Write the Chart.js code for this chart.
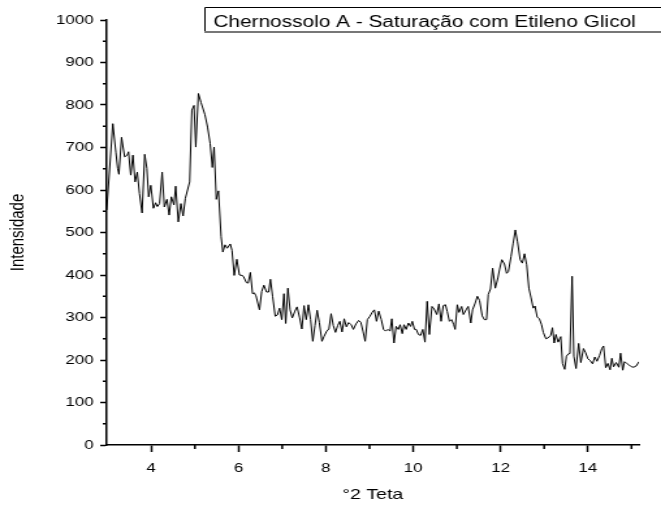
<!DOCTYPE html>
<html>
<head>
<meta charset="utf-8">
<script src="https://cdn.jsdelivr.net/npm/chart.js@4.4.1/dist/chart.umd.min.js"></script>
<style>
  body { margin: 0; background: #fff; }
  #wrap { width: 661px; height: 508px; overflow: hidden; }
  /* the original figure is horizontally stretched, so draw square and stretch it */
  #chart { transform: scaleX(1.3012); transform-origin: 0 0; }
</style>
</head>
<body>
<div id="wrap"><canvas id="chart" width="508" height="508"></canvas></div>
<script>
const theta = [
  2.98, 3.12, 3.19, 3.23, 3.26, 3.32, 3.39, 3.45, 3.48, 3.53, 3.58, 3.63, 3.68, 3.73, 3.79, 3.85, 3.90, 3.94,
  3.99, 4.05, 4.10, 4.14, 4.19, 4.25, 4.30, 4.36, 4.41, 4.46, 4.52, 4.56, 4.62, 4.68, 4.73, 4.78, 4.88, 4.93, 4.98,
  5.02, 5.08, 5.14, 5.23, 5.29, 5.35, 5.40, 5.44, 5.49, 5.54, 5.60, 5.64, 5.69, 5.74, 5.81, 5.85, 5.90, 5.96, 6.02,
  6.08, 6.11, 6.18, 6.22, 6.27, 6.32, 6.36, 6.40, 6.48, 6.53, 6.58, 6.64, 6.69, 6.73, 6.78, 6.84, 6.89, 6.94, 6.99,
  7.04, 7.08, 7.13, 7.18, 7.23, 7.29, 7.34, 7.40, 7.45, 7.50, 7.55, 7.60, 7.65, 7.70, 7.75, 7.80, 7.85, 7.91, 7.96, 8.02,
  8.07, 8.12, 8.17, 8.22, 8.27, 8.32, 8.37, 8.42, 8.47, 8.52, 8.58, 8.63, 8.69, 8.75, 8.80, 8.85, 8.90, 8.95, 9.01, 9.06,
  9.11, 9.16, 9.21, 9.27, 9.32, 9.37, 9.42, 9.47, 9.51, 9.56, 9.61, 9.66, 9.70, 9.75, 9.79, 9.84, 9.89, 9.94, 9.98, 10.03, 10.07,
  10.12, 10.17, 10.22, 10.27, 10.32, 10.37, 10.43, 10.48, 10.54, 10.59, 10.64, 10.69, 10.74, 10.78, 10.83, 10.88, 10.93, 10.96, 11.01, 11.05,
  11.11, 11.15, 11.21, 11.26, 11.32, 11.36, 11.42, 11.47, 11.52, 11.58, 11.63, 11.68, 11.72, 11.77, 11.82, 11.88, 11.94, 11.98, 12.03, 12.09,
  12.14, 12.18, 12.24, 12.29, 12.34, 12.39, 12.45, 12.50, 12.55, 12.60, 12.65, 12.70, 12.75, 12.79, 12.84, 12.89, 12.94, 12.98, 13.04, 13.09,
  13.15, 13.19, 13.23, 13.27, 13.32, 13.38, 13.42, 13.47, 13.51, 13.56, 13.59, 13.64, 13.68, 13.73, 13.79, 13.84, 13.90, 13.95, 14.00, 14.05, 14.11,
  14.16, 14.21, 14.27, 14.32, 14.36, 14.41, 14.46, 14.51, 14.55, 14.59, 14.65, 14.71, 14.75, 14.80, 14.84, 14.89, 14.95, 15.00, 15.05, 15.11, 15.17
];
const intensity = [
  553, 756, 689, 651, 637, 724, 678, 682, 690, 635, 682, 619, 642, 592, 546, 684, 651, 584,
  611, 557, 570, 561, 568, 642, 560, 578, 541, 584, 565, 609, 525, 568, 539, 580, 619, 788, 799,
  701, 827, 806, 777, 748, 709, 653, 701, 578, 598, 490, 454, 471, 463, 473, 458, 399, 437, 400,
  399, 397, 382, 381, 406, 356, 358, 351, 318, 361, 376, 360, 360, 390, 350, 303, 306, 322, 295,
  356, 286, 369, 318, 299, 315, 325, 299, 273, 328, 295, 330, 295, 244, 281, 317, 288, 244, 256, 268,
  273, 309, 281, 265, 281, 291, 266, 297, 278, 288, 283, 272, 285, 293, 289, 268, 244, 295, 303, 312,
  318, 291, 315, 295, 272, 268, 272, 268, 297, 240, 279, 272, 283, 262, 283, 272, 287, 279, 291, 272, 272,
  260, 258, 272, 242, 338, 260, 326, 320, 307, 332, 291, 328, 330, 314, 291, 295, 283, 272, 330, 312,
  326, 307, 318, 326, 287, 318, 334, 350, 340, 304, 295, 295, 354, 367, 416, 369, 393, 414, 436, 426,
  404, 408, 443, 475, 506, 478, 436, 428, 450, 424, 369, 346, 322, 327, 301, 297, 283, 265, 250, 252,
  258, 276, 240, 260, 242, 255, 192, 178, 209, 215, 215, 397, 209, 180, 239, 194, 227, 217, 203, 199, 191,
  207, 197, 211, 227, 233, 182, 192, 177, 204, 184, 194, 183, 216, 176, 196, 192, 188, 184, 183, 186, 196
];

const chartTitle = 'Chernossolo A - Saturação com Etileno Glicol';
const minorX = [5, 7, 9, 11, 13, 15];
const minorY = [50, 150, 250, 350, 450, 550, 650, 750, 850, 950];

Chart.defaults.font.family = '"Liberation Sans", Arial, sans-serif';
Chart.defaults.color = '#000';

// minor ticks and the boxed caption at the top
const extras = {
  id: 'extras',
  afterDraw(chart) {
    const ctx = chart.ctx;
    const xs = chart.scales.x;
    const ys = chart.scales.y;
    ctx.save();
    ctx.strokeStyle = '#000';
    ctx.lineWidth = 1.5;
    ctx.beginPath();
    minorX.forEach(v => {
      const px = xs.getPixelForValue(v);
      ctx.moveTo(px, ys.bottom);
      ctx.lineTo(px, ys.bottom + 4);
    });
    minorY.forEach(v => {
      const py = ys.getPixelForValue(v);
      ctx.moveTo(xs.left, py);
      ctx.lineTo(xs.left - 3, py);
    });
    ctx.stroke();

    ctx.lineWidth = 1;
    ctx.beginPath();
    ctx.moveTo(600, 7.5);
    ctx.lineTo(157.5, 7.5);
    ctx.lineTo(157.5, 31.5);
    ctx.stroke();
    ctx.strokeStyle = '#777';
    ctx.lineWidth = 2;
    ctx.beginPath();
    ctx.moveTo(157, 32);
    ctx.lineTo(600, 32);
    ctx.stroke();

    ctx.fillStyle = '#000';
    ctx.font = '16px "Liberation Sans", Arial, sans-serif';
    ctx.textBaseline = 'alphabetic';
    ctx.fillText(chartTitle, 164, 27);
    ctx.restore();
  }
};

new Chart(document.getElementById('chart'), {
  type: 'line',
  data: {
    datasets: [{
      data: theta.map((t, i) => ({ x: t, y: intensity[i] })),
      borderColor: '#000',
      borderWidth: 1,
      pointRadius: 0,
      tension: 0,
      fill: false
    }]
  },
  options: {
    responsive: false,
    animation: false,
    layout: { padding: { left: 0, right: 17, top: 20, bottom: 0 } },
    plugins: { legend: { display: false }, tooltip: { enabled: false } },
    scales: {
      x: {
        type: 'linear',
        min: 2.98,
        max: 15.17,
        afterBuildTicks: s => { s.ticks = s.ticks.filter(t => t.value % 2 === 0); },
        afterFit: s => { s.height = 63; },
        ticks: { stepSize: 1, padding: 9, font: { size: 13 }, callback: v => String(v) },
        grid: { drawOnChartArea: false, tickLength: 7, tickColor: '#000', tickWidth: 1.5 },
        border: { color: '#000', width: 1.5 },
        title: { display: true, text: '°2 Teta', font: { size: 15 }, padding: { top: 0, bottom: 4 } }
      },
      y: {
        min: 0,
        max: 1000,
        afterFit: s => { s.width = 82; },
        ticks: { stepSize: 100, padding: 5, font: { size: 13 }, callback: v => String(v) },
        grid: { drawOnChartArea: false, tickLength: 5, tickColor: '#000', tickWidth: 1.5 },
        border: { color: '#000', width: 1.5 },
        title: { display: true, text: 'Intensidade', font: { size: 15 }, padding: { top: 5, bottom: 0 } }
      }
    }
  },
  plugins: [extras]
});
</script>
</body>
</html>
